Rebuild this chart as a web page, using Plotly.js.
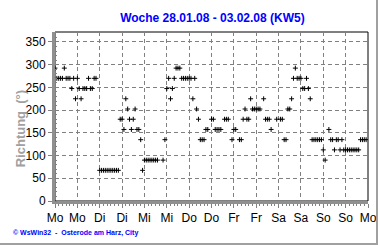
<!DOCTYPE html>
<html><head><meta charset="utf-8">
<script src="https://cdn.plot.ly/plotly-3.0.1.min.js"></script>
<style>
html,body{margin:0;padding:0;background:#fff;}
#wrap{position:relative;width:380px;height:245px;overflow:hidden;}
#chart{width:380px;height:245px;}
#fr{position:absolute;left:0;top:0;width:376px;height:243px;border-right:2px solid #a0a0a0;border-bottom:2px solid #a0a0a0;pointer-events:none;}
</style></head>
<body><div id="wrap"><div id="chart"></div><div id="fr"></div></div>
<script>
// Wind direction (degrees), hourly, one array per day (null = no reading)
const mo = [292.5,270,270,270,270,292.5,270,270,270,247.5,270,225,270,247.5,225,247.5,247.5,247.5,270,247.5,247.5,270,270,null];
const di = [67.5,67.5,67.5,67.5,67.5,67.5,67.5,67.5,67.5,67.5,67.5,180,180,157.5,225,202.5,180,157.5,180,202.5,157.5,157.5,135,67.5];
const mi = [90,90,90,90,90,90,90,90,null,null,90,135,247.5,270,225,247.5,270,292.5,292.5,292.5,270,270,270,270];
const don = [270,270,225,270,202.5,180,135,135,135,157.5,157.5,null,180,180,157.5,157.5,157.5,157.5,null,180,180,180,null,135];
const fr = [157.5,157.5,null,135,135,180,202.5,180,180,225,202.5,202.5,202.5,202.5,202.5,null,225,180,180,180,157.5,null,null,180];
const sa = [null,180,180,135,135,202.5,202.5,225,270,292.5,270,270,270,247.5,247.5,270,247.5,225,135,135,135,135,135,135];
const so = [112.5,90,null,157.5,135,135,112.5,135,135,112.5,135,112.5,112.5,112.5,112.5,112.5,112.5,112.5,112.5,112.5,135,135,135,135];
const days = [mo, di, mi, don, fr, sa, so];
const tickLabels = ["Mo","Mo","Di","Di","Mi","Mi","Do","Do","Fr","Fr","Sa","Sa","So","So","Mo"];
const yTicks = [0,50,100,150,200,250,300,350];

const xs = [], ys = [];
days.forEach((d, di_) => d.forEach((v, h) => { xs.push(di_*24 + h); ys.push(v); }));
const tickVals = tickLabels.map((_, i) => i*12);

const font = "Liberation Sans, Arial, sans-serif";
Plotly.newPlot('chart', [{
  x: xs, y: ys, type: 'scatter', mode: 'markers',
  marker: {symbol: 'cross-thin-open', size: 3.5, color: '#000', line: {width: 1, color: '#000'}},
  hoverinfo: 'skip'
}], {
  width: 380, height: 245,
  margin: {l: 55, r: 12, t: 32, b: 44},
  paper_bgcolor: '#fff', plot_bgcolor: '#fff',
  showlegend: false,
  font: {family: font, size: 12, color: '#000'},
  title: {text: 'Woche 28.01.08 - 03.02.08 (KW5)', font: {family: font, size: 12, color: '#0000ff', weight: 'bold'},
          x: 0.503, xref: 'paper', xanchor: 'center', y: 0.928, yanchor: 'middle'},
  xaxis: {range: [0, 168], tickvals: tickVals, ticktext: tickLabels, ticks: 'outside', ticklen: 4, tickcolor: '#808080',
          showline: true, linecolor: '#909090', linewidth: 3, showgrid: true, gridcolor: '#808080', griddash: '4px,3px', gridwidth: 1,
          zeroline: false, tickfont: {size: 12, family: font},
          minor: {dtick: 2, ticks: 'outside', ticklen: 2, tickcolor: '#808080', showgrid: false}},
  yaxis: {range: [0, 372], tickvals: yTicks, ticks: 'outside', ticklen: 4, tickcolor: '#808080',
          showline: true, linecolor: '#909090', linewidth: 3, showgrid: true, gridcolor: '#808080', griddash: '4px,3px', gridwidth: 1,
          zeroline: false, tickfont: {size: 12, family: font},
          minor: {dtick: 10, ticks: 'inside', ticklen: 2, tickcolor: '#808080', showgrid: false}},
  shapes: [{type: 'rect', xref: 'paper', yref: 'paper', x0: 0, x1: 1, y0: 0, y1: 1, line: {color: '#000', width: 1}, layer: 'below'}],
  annotations: [
    {text: 'Richtung  (°)', xref: 'paper', yref: 'paper', x: -0.112, y: 0.43, textangle: -90,
     xanchor: 'center', yanchor: 'middle', showarrow: false, font: {size: 13, color: '#a0a0a0', family: font, weight: 'bold'}},
    {text: '© WsWin32  -  Osterode am Harz, City', xref: 'paper', yref: 'paper', x: -0.14, y: -0.19,
     xanchor: 'left', yanchor: 'middle', showarrow: false, font: {size: 7, color: '#0000ff', family: font, weight: 'bold'}}]
}, {staticPlot: true, displayModeBar: false});
</script></body></html>
